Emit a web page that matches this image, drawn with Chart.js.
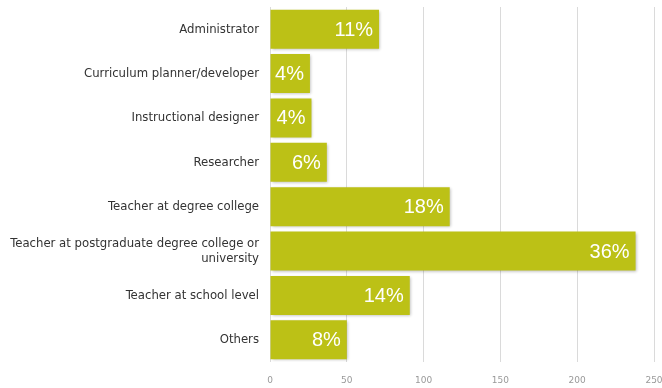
<!DOCTYPE html>
<html lang="en">
<head>
    <meta charset="UTF-8">
    <title>Respondents by Role</title>
    <script src="https://cdn.jsdelivr.net/npm/chart.js"></script>
    <style>
        html, body {
            margin: 0;
            padding: 0;
            background: #ffffff;
        }
        .chart-box {
            position: relative;
            width: 662px;
            height: 388px;
        }
    </style>
</head>
<body>
    <div class="chart-box">
        <canvas id="roleChart"></canvas>
    </div>

    <script>
        // Respondent roles and counts
        const roles = [
            'Administrator',
            'Curriculum planner/developer',
            'Instructional designer',
            'Researcher',
            'Teacher at degree college',
            ['Teacher at postgraduate degree college or', 'university'],
            'Teacher at school level',
            'Others'
        ];
        const counts = [71, 26, 27, 37, 117, 238, 91, 50];
        const shares = ['11%', '4%', '4%', '6%', '18%', '36%', '14%', '8%'];
        const xTicks = [0, 50, 100, 150, 200, 250];

        const barColor = '#bcc116';
        const labelFont = "'Liberation Sans Narrow', 'DejaVu Sans Condensed', 'Arial Narrow', sans-serif";

        // soft drop shadow under each bar
        const barShadow = {
            id: 'barShadow',
            beforeDatasetDraw(chart) {
                const ctx = chart.ctx;
                ctx.save();
                ctx.shadowColor = 'rgba(0, 0, 0, 0.28)';
                ctx.shadowBlur = 3;
                ctx.shadowOffsetX = 1;
                ctx.shadowOffsetY = 1;
            },
            afterDatasetDraw(chart) {
                chart.ctx.restore();
            }
        };

        // percentage text inside the right end of each bar
        const shareLabels = {
            id: 'shareLabels',
            afterDatasetsDraw(chart) {
                const ctx = chart.ctx;
                const meta = chart.getDatasetMeta(0);
                ctx.save();
                ctx.fillStyle = '#ffffff';
                ctx.font = "20px 'Liberation Sans', Arial, sans-serif";
                ctx.textAlign = 'right';
                ctx.textBaseline = 'middle';
                meta.data.forEach((bar, i) => {
                    ctx.fillText(shares[i], bar.x - 6, bar.y + 1);
                });
                ctx.restore();
            }
        };

        new Chart(document.getElementById('roleChart'), {
            type: 'bar',
            data: {
                labels: roles,
                datasets: [{
                    data: counts,
                    backgroundColor: barColor,
                    borderWidth: 0,
                    barPercentage: 0.88,
                    categoryPercentage: 1.0
                }]
            },
            options: {
                indexAxis: 'y',
                responsive: true,
                maintainAspectRatio: false,
                animation: false,
                layout: {
                    padding: { top: 7, right: 8, bottom: 2, left: 0 }
                },
                plugins: {
                    legend: { display: false },
                    tooltip: { enabled: false }
                },
                scales: {
                    x: {
                        min: 0,
                        max: 250,
                        afterBuildTicks(scale) {
                            scale.ticks = xTicks.map(v => ({ value: v }));
                        },
                        afterFit(scale) {
                            scale.height = 24;
                            scale.paddingLeft = 0;
                            scale.paddingRight = 0;
                        },
                        grid: {
                            color: '#dadada',
                            lineWidth: 1,
                            drawTicks: false
                        },
                        border: { display: false },
                        ticks: {
                            color: '#999999',
                            padding: 13,
                            font: { family: "'DejaVu Sans', sans-serif", size: 9 }
                        }
                    },
                    y: {
                        grid: { display: false, drawTicks: false },
                        border: { display: false },
                        afterFit(scale) {
                            scale.width = 270;
                            scale.paddingTop = 0;
                            scale.paddingBottom = 0;
                        },
                        ticks: {
                            color: '#333333',
                            padding: 11,
                            font: { family: labelFont, size: 13 }
                        }
                    }
                }
            },
            plugins: [barShadow, shareLabels]
        });
    </script>
</body>
</html>
